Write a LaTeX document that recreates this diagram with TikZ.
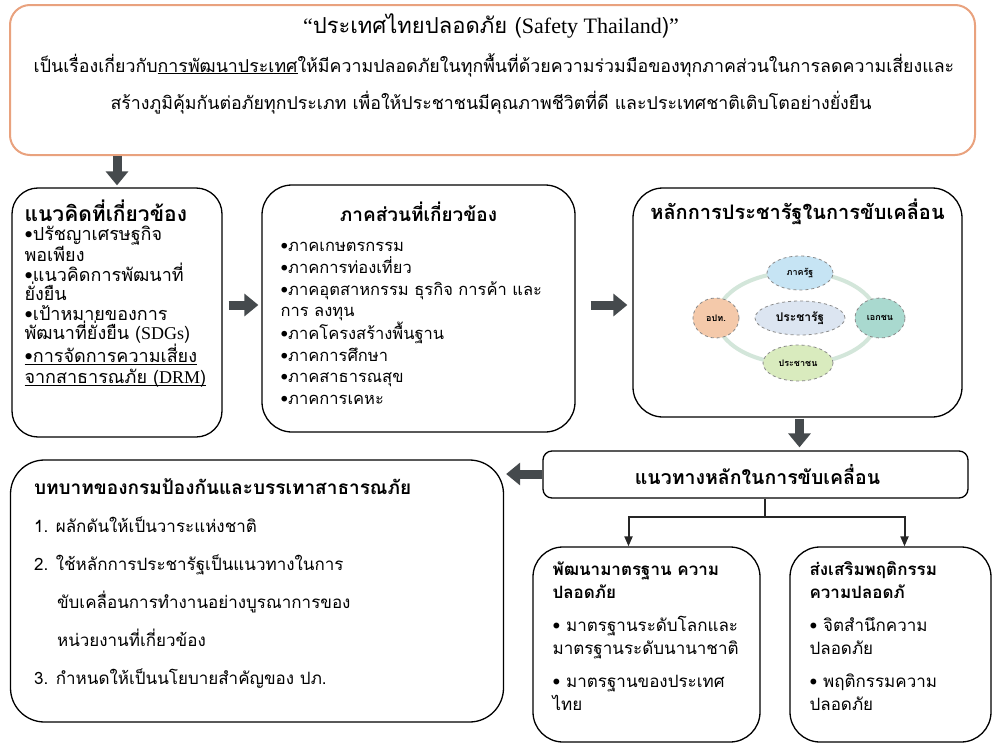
\documentclass[tikz,border=0pt]{standalone}
\usepackage{fontspec}
\usetikzlibrary{arrows.meta,shapes.geometric,positioning}
\setmainfont[Script=Thai]{Loma}
\newfontfamily\latserif{Liberation Serif}
\newcommand{\thaiul}[1]{\underline{\raisebox{0pt}[\height][0pt]{#1}}}
\definecolor{edgeorange}{HTML}{E9A27E}
\definecolor{arrowgray}{HTML}{454A4D}
\definecolor{ringcolor}{HTML}{D3E6DA}
\definecolor{govblue}{HTML}{C6E4F4}
\definecolor{localpeach}{HTML}{F4C9AA}
\definecolor{centerblue}{HTML}{DCE5F1}
\definecolor{privteal}{HTML}{A9D9CF}
\definecolor{peoplegreen}{HTML}{D9EBBE}
\definecolor{dashgray}{HTML}{8A8A8A}

\begin{document}
\begin{tikzpicture}[x=1pt,y=-1pt,
  box/.style={draw=black, line width=1.3pt, rounded corners=#1, fill=white, inner sep=0pt},
  box/.default=28pt,
  textblock/.style={anchor=north west, inner sep=0pt, align=left, font=\fontsize{18}{19.5}\selectfont},
  blockarrow/.style={draw=arrowgray, line width=9pt, -{Triangle[width=22pt,length=14pt]}},
  treearrow/.style={draw=black!85, line width=2pt, -{Triangle[width=8pt,length=10pt]}},
  bubble/.style={ellipse, draw=dashgray, dashed, line width=0.8pt, inner sep=1pt, font=\fontsize{9}{10}\selectfont\bfseries}
]
\useasboundingbox (0,0) rectangle (994,744);

% top box
\node[box=20pt, draw=edgeorange, line width=2pt, minimum width=965pt, minimum height=150pt] (top) at (492.5,80) {};
\node[inner sep=0pt, font=\fontsize{22}{24}\selectfont] (toptitle) at (491,26) {{\latserif “}ประเทศไทยปลอดภัย ({\latserif Safety Thailand}){\latserif ”}};
\node[inner sep=0pt, font=\fontsize{17.8}{20}\selectfont] (topline1) at (494,65) {เป็นเรื่องเกี่ยวกับ\thaiul{การพัฒนาประเทศ}ให้มีความปลอดภัยในทุกพื้นที่ด้วยความร่วมมือของทุกภาคส่วนในการลดความเสี่ยงและ};
\node[inner sep=0pt, font=\fontsize{17.8}{20}\selectfont] (topline2) at (491,103) {สร้างภูมิคุ้มกันต่อภัยทุกประเภท เพื่อให้ประชาชนมีคุณภาพชีวิตที่ดี และประเทศชาติเติบโตอย่างยั่งยืน};

% row of three boxes
\node[box=26pt, minimum width=210pt, minimum height=249pt] (concept) at (117,312.5) {};
\node[textblock] (concepttext) at ([shift={(13,12)}]concept.north west) {%
  {\fontsize{21}{25}\selectfont\bfseries แนวคิดที่เกี่ยวข้อง}\\
  •ปรัชญาเศรษฐกิจ\\
  พอเพียง\\
  •แนวคิดการพัฒนาที่\\
  ยั่งยืน\\
  •เป้าหมายของการ\\
  พัฒนาที่ยั่งยืน ({\latserif SDGs})\\
  \thaiul{•การจัดการความเสี่ยง}\\[1pt]
  \thaiul{จากสาธารณภัย ({\latserif DRM})}};

\node[box=30pt, minimum width=313pt, minimum height=247pt] (sector) at (418.5,308.5) {};
\node[inner sep=0pt, font=\fontsize{19}{22}\selectfont\bfseries] (sectorhead) at ([yshift=-27]sector.north) {ภาคส่วนที่เกี่ยวข้อง};
\node[textblock, font=\fontsize{16.5}{21.6}\selectfont] (sectortext) at ([shift={(19,58)}]sector.north west) {%
  •ภาคเกษตรกรรม\\
  •ภาคการท่องเที่ยว\\
  •ภาคอุตสาหกรรม ธุรกิจ การค้า และ\\
  การ ลงทุน\\
  •ภาคโครงสร้างพื้นฐาน\\
  •ภาคการศึกษา\\
  •ภาคสาธารณสุข\\
  •ภาคการเคหะ};

\node[box=30pt, minimum width=329pt, minimum height=229pt] (pracharat) at (797.5,302.5) {};
\node[inner sep=0pt, font=\fontsize{20}{24}\selectfont\bfseries] (pracharathead) at ([yshift=-25]pracharat.north) {หลักการประชารัฐในการขับเคลื่อน};

% the ring of partners
\draw[ringcolor, line width=4pt] (797,318) ellipse [x radius=80, y radius=46];
\node[bubble, fill=govblue, minimum width=66pt, minimum height=34pt] (gov) at (800,273) {ภาครัฐ};
\node[bubble, fill=localpeach, minimum width=46pt, minimum height=40pt] (local) at (716,318) {อปท.};
\node[bubble, fill=centerblue, minimum width=90pt, minimum height=34pt, font=\fontsize{12}{13}\selectfont\bfseries] (core) at (800,318) {ประชารัฐ};
\node[bubble, fill=privteal, minimum width=50pt, minimum height=40pt] (private) at (880,318) {เอกชน};
\node[bubble, fill=peoplegreen, minimum width=70pt, minimum height=36pt] (people) at (798,363) {ประชาชน};

% guideline box and role box
\node[box=9pt, minimum width=425pt, minimum height=47pt] (guide) at (755.5,474.5) {};
\node[inner sep=0pt, font=\fontsize{19.5}{22}\selectfont\bfseries] (guidetext) at ([xshift=2]guide.center) {แนวทางหลักในการขับเคลื่อน};

\node[box=34pt, minimum width=493pt, minimum height=262pt] (role) at (257,591) {};
\node[textblock, font=\fontsize{17}{38}\selectfont] (roletext) at ([shift={(24,19)}]role.north west) {%
  {\fontsize{19}{22}\selectfont\bfseries บทบาทของกรมป้องกันและบรรเทาสาธารณภัย}\\
  1. ผลักดันให้เป็นวาระแห่งชาติ\\
  2. ใช้หลักการประชารัฐเป็นแนวทางในการ\\
  \hspace*{23pt}ขับเคลื่อนการทำงานอย่างบูรณาการของ\\
  \hspace*{23pt}หน่วยงานที่เกี่ยวข้อง\\
  3. กำหนดให้เป็นนโยบายสำคัญของ ปภ.};

% two bottom boxes
\node[box=30pt, minimum width=227pt, minimum height=195pt] (standard) at (646.5,644.5) {};
\node[textblock, font=\fontsize{17}{23}\selectfont] (standardtext) at ([shift={(20,15)}]standard.north west) {%
  {\bfseries พัฒนามาตรฐาน ความ}\\
  {\bfseries ปลอดภัย}\\[10pt]
  • มาตรฐานระดับโลกและ\\
  มาตรฐานระดับนานาชาติ\\[10pt]
  • มาตรฐานของประเทศ\\
  ไทย};

\node[box=30pt, minimum width=201pt, minimum height=195pt] (behavior) at (890.5,644.5) {};
\node[textblock, font=\fontsize{17}{23}\selectfont] (behaviortext) at ([shift={(20,15)}]behavior.north west) {%
  {\bfseries ส่งเสริมพฤติกรรม}\\
  {\bfseries ความปลอดภั}\\[10pt]
  • จิตสำนึกความ\\
  ปลอดภัย\\[10pt]
  • พฤติกรรมความ\\
  ปลอดภัย};

% block arrows
\draw[blockarrow, shorten >=2pt] (concept.north |- top.south) -- (concept.north);
\draw[blockarrow, shorten <=6pt, shorten >=3pt] (concept.east |- 0,305) -- (sector.west |- 0,305);
\draw[blockarrow, shorten <=15pt, shorten >=5pt] (sector.east |- 0,305) -- (pracharat.west |- 0,305);
\draw[blockarrow, shorten <=1pt, shorten >=3pt] ([xshift=2]pracharat.south) -- ([xshift=2]pracharat.south |- guide.north);
\draw[blockarrow, shorten >=2pt] (guide.west |- 0,474) -- (role.east |- 0,474);

% tree below the guideline box
\coordinate (fork) at (765,517);
\draw[line width=2pt, black!85] (guide.south -| fork) -- (fork);
\draw[treearrow] (fork) -| ([xshift=-18]standard.north);
\draw[treearrow] (fork) -| ([xshift=14]behavior.north);
\end{tikzpicture}
\end{document}
